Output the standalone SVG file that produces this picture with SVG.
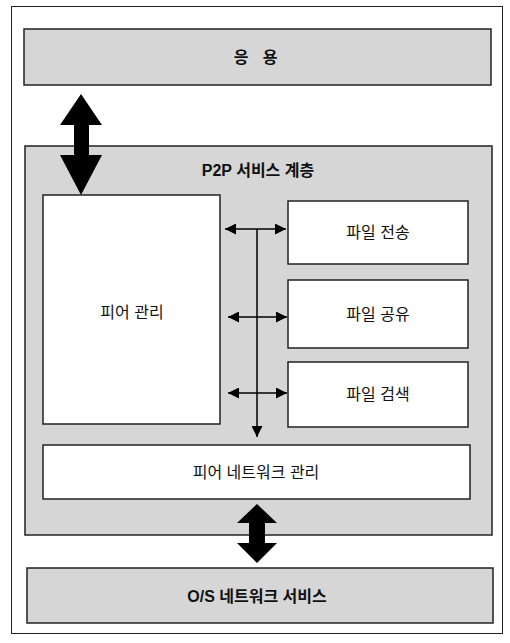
<svg xmlns="http://www.w3.org/2000/svg" width="510" height="643" viewBox="0 0 510 643">
<defs>
<style>
.gray{fill:#d6d6d6;stroke:#222;stroke-width:1.5}
.white{fill:#fff;stroke:#222;stroke-width:1.5}
.t{font-family:"Liberation Sans","Noto Sans CJK KR",sans-serif;font-size:16px;fill:#111;text-anchor:middle}
.b{font-weight:bold}
.ln{stroke:#000;stroke-width:1.5;fill:none}
.big{fill:#000}
</style>
<marker id="ah2" viewBox="0 0 10 10" refX="10" refY="5" markerWidth="13" markerHeight="11" orient="auto-start-reverse" markerUnits="userSpaceOnUse">
<path d="M0,0 L10,5 L0,10 z" fill="#000"/>
</marker>
</defs>
<rect x="0" y="0" width="510" height="643" fill="#fff"/>
<rect x="11.5" y="6.5" width="491" height="627" fill="none" stroke="#222" stroke-width="1"/>

<g id="app">
<rect class="gray" x="24" y="29" width="467" height="56"/>
<text class="t b" y="63"><tspan x="241">응</tspan><tspan x="270">용</tspan></text>
</g>

<g id="p2p-layer">
<rect class="gray" x="25" y="146" width="467" height="389"/>
<text class="t b" x="258" y="176">P2P 서비스 계층</text>
</g>

<g id="peer-mgmt">
<rect class="white" x="43" y="195" width="177" height="229"/>
<text class="t" x="132" y="318">피어 관리</text>
</g>

<g id="file-transfer">
<rect class="white" x="288" y="201" width="180" height="63"/>
<text class="t" x="378" y="238">파일 전송</text>
</g>
<g id="file-share">
<rect class="white" x="288" y="280" width="180" height="68"/>
<text class="t" x="378" y="320">파일 공유</text>
</g>
<g id="file-search">
<rect class="white" x="288" y="362" width="180" height="65"/>
<text class="t" x="378" y="400">파일 검색</text>
</g>

<g id="peer-net-mgmt">
<rect class="white" x="43" y="445" width="427" height="54"/>
<text class="t" x="256" y="478">피어 네트워크 관리</text>
</g>

<g id="os-net">
<rect class="gray" x="27" y="568" width="466" height="55"/>
<text class="t b" x="257" y="602">O/S 네트워크 서비스</text>
</g>

<g id="connectors">
<polygon class="big" points="81,94 102,125 89,125 89,155 102,155 81,195 60,155 74,155 74,125 60,125"/>
<polygon class="big" points="257,504 277,523 265,523 265,543 277,543 257,563 237,543 249,543 249,523 237,523"/>
<line class="ln" x1="257" y1="229" x2="257" y2="437" marker-end="url(#ah2)"/>
<line class="ln" x1="225" y1="229" x2="286" y2="229" marker-start="url(#ah2)" marker-end="url(#ah2)"/>
<line class="ln" x1="228" y1="317" x2="287" y2="317" marker-start="url(#ah2)" marker-end="url(#ah2)"/>
<line class="ln" x1="228" y1="393" x2="287" y2="393" marker-start="url(#ah2)" marker-end="url(#ah2)"/>
</g>
</svg>
